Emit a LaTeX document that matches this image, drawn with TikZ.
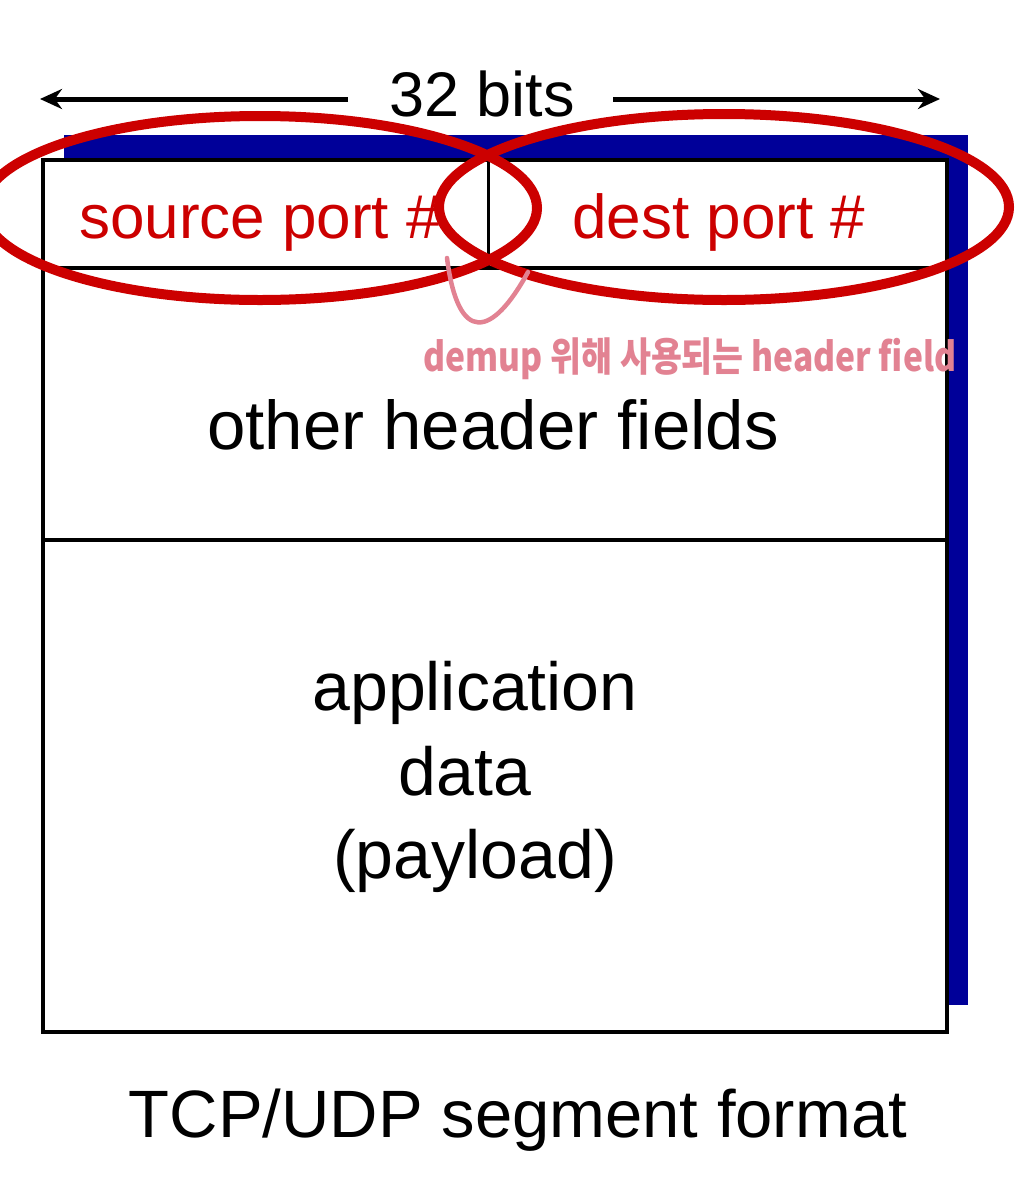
\documentclass[tikz,border=0pt]{standalone}
\usepackage{fontspec}
\setmainfont{Liberation Sans}
\newfontfamily\hangul{Noto Sans CJK KR}
\usetikzlibrary{arrows.meta,shapes.geometric}
\definecolor{slidered}{RGB}{204,0,0}
\definecolor{shadowblue}{RGB}{0,0,153}
\definecolor{penpink}{RGB}{226,130,146}
\begin{document}
\begin{tikzpicture}[x=1pt,y=-1pt,
        field/.style={font=\fontsize{68}{82}\selectfont,anchor=base,inner sep=0pt},
        portfield/.style={font=\fontsize{62}{74}\selectfont,text=slidered,anchor=base,inner sep=0pt},
        ring/.style={draw=slidered,line width=10pt,ellipse,inner sep=0pt},
        widthline/.style={line width=5pt,-{Stealth[length=22pt,width=20pt]}},
        pen/.style={draw=penpink,line width=4.5pt,line cap=round}]
    \useasboundingbox (0,0) rectangle (1024,1181);
    % segment
    \fill[shadowblue] (64,135) rectangle (968,1005);
    \draw[line width=4pt,fill=white] (43,160) rectangle (947,1032);
    \draw[line width=4pt] (43,268) -- (947,268);
    \draw[line width=4pt] (43,540) -- (947,540);
    \draw[line width=3pt] (488,160) -- (488,268);
    \node[field,font=\fontsize{63}{76}\selectfont] (width) at (482,116) {32 bits};
    \coordinate (lstart) at (348,99);
    \coordinate (lend) at (40,99);
    \coordinate (rstart) at (613,99);
    \coordinate (rend) at (940,99);
    \draw[widthline] (lstart) -- (lend);
    \draw[widthline] (rstart) -- (rend);
    \node[portfield] (src) at (260,238) {source port \#};
    \node[portfield] (dst) at (719,238) {dest port \#};
    \node[field,font=\fontsize{69}{82}\selectfont] (other) at (493,449) {other header fields};
    \node[field] (appl) at (475,710) {application};
    \node[field] (data) at (465,795) {data};
    \node[field] (payload) at (475,878) {(payload)};
    \node[field,font=\fontsize{67}{80}\selectfont] (caption) at (518,1137) {TCP/UDP segment format};
    % demux rings
    \node[ring,minimum width=554pt,minimum height=184pt] (srcring) at (260,208) {};
    \node[ring,minimum width=570pt,minimum height=186pt] (dstring) at (724,207) {};
    % pen note
    \node[anchor=base,inner sep=0pt,text=penpink,font=\hangul\bfseries\fontsize{40}{44}\selectfont,xscale=0.84] (note) at (690,371) {demup 위해 사용되는 header field};
    \coordinate (pena) at (447,258);
    \coordinate (penb) at (528,272);
    \draw[pen] (pena) .. controls (458,345) and (492,338) .. (penb);
\end{tikzpicture}
\end{document}
